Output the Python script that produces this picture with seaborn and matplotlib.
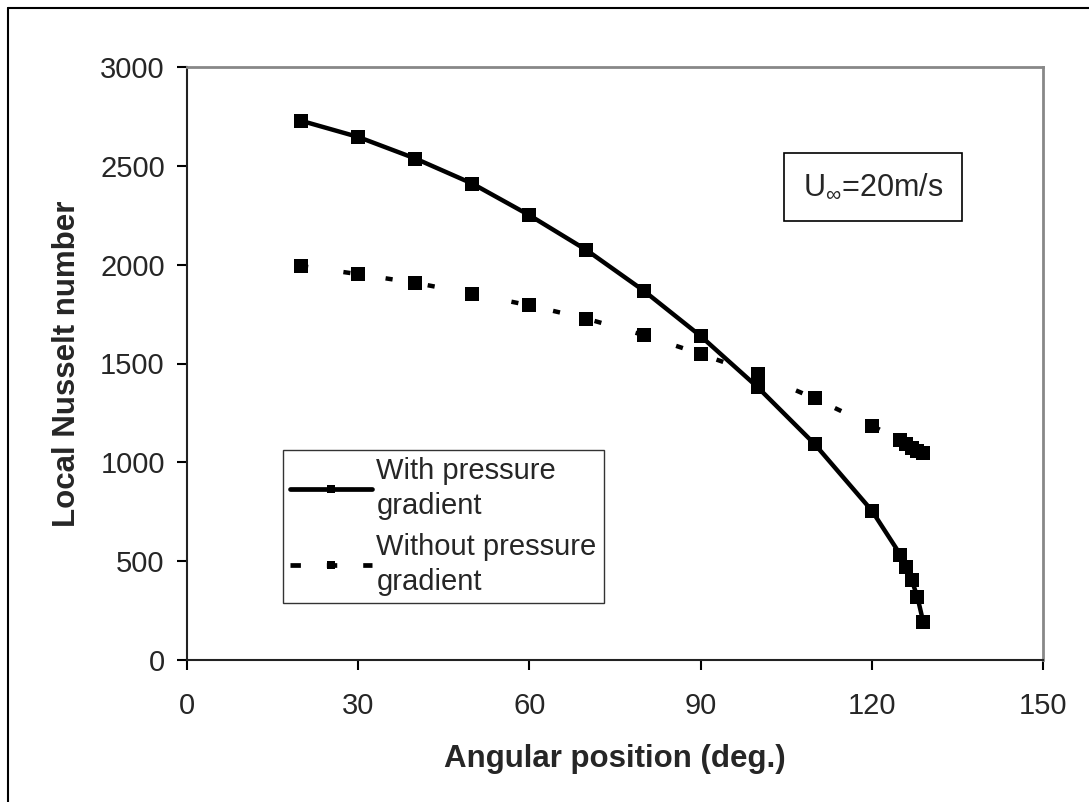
import matplotlib
matplotlib.use("Agg")
import matplotlib.pyplot as plt
from matplotlib.lines import Line2D
import seaborn as sns
import pandas as pd

angle = [20, 30, 40, 50, 60, 70, 80, 90, 100, 110, 120, 125, 126, 127, 128, 129]
nu_with = [2728, 2646, 2537, 2410, 2250, 2074, 1869, 1639, 1380, 1092, 756, 533, 471, 404, 318, 194]
nu_without = [1993, 1952, 1908, 1853, 1794, 1727, 1644, 1548, 1447, 1323, 1186, 1111, 1092, 1074, 1059, 1046]
series_names = ["With pressure\ngradient", "Without pressure\ngradient"]
annotation = "U$_{\\infty}$=20m/s"
x_ticks = [0, 30, 60, 90, 120, 150]
y_ticks = [0, 500, 1000, 1500, 2000, 2500, 3000]

sns.set_theme(style="white")
plt.rcParams['font.family'] = ['Liberation Sans', 'DejaVu Sans']
plt.rcParams['mathtext.fontset'] = 'custom'
plt.rcParams['mathtext.rm'] = 'Liberation Sans'
plt.rcParams['mathtext.it'] = 'Liberation Sans'

df = pd.DataFrame({"angle": angle, "with": nu_with, "without": nu_without})

fig = plt.figure(figsize=(10.89, 8.02), dpi=100)
ax = fig.add_axes([187/1089, 1 - 660/802, (1043 - 187)/1089, (660 - 67)/802])

sns.lineplot(data=df, x="angle", y="with", ax=ax, color="black", linewidth=3.2,
             marker="s", markersize=9.5, markeredgewidth=0, markerfacecolor="black")
sns.lineplot(data=df, x="angle", y="without", ax=ax, color="black", linewidth=3.2,
             marker="s", markersize=9.5, markeredgewidth=0, markerfacecolor="black")
ax.lines[1].set_dashes((1.6, 8))

ax.set_xlim(0, 150)
ax.set_ylim(0, 3000)
ax.set_xticks(x_ticks)
ax.set_yticks(y_ticks)
ax.tick_params(axis="both", which="major", direction="out", length=7, width=1.5,
               color="black", labelsize=21, left=True, bottom=True)
ax.tick_params(axis="x", pad=16)
ax.tick_params(axis="y", pad=9)
ax.set_xlabel("Angular position (deg.)", fontsize=22.5, fontweight="bold", labelpad=17)
ax.set_ylabel("Local Nusselt number", fontsize=22.5, fontweight="bold", labelpad=13)

for side in ["left", "bottom"]:
    ax.spines[side].set_color("#222222")
    ax.spines[side].set_linewidth(1.5)
for side in ["top", "right"]:
    ax.spines[side].set_color("#888888")
    ax.spines[side].set_linewidth(2)

h1 = Line2D([], [], color="black", linewidth=3.4, marker="s", markersize=6,
            markeredgewidth=0)
h2 = Line2D([], [], color="black", linewidth=3.4, marker="s", markersize=6,
            markeredgewidth=0, dashes=(2.2, 5.5))
leg = ax.legend([h1, h2], series_names, loc="lower left",
                bbox_to_anchor=((283 - 187)/856, (660 - 603)/593),
                fontsize=21, frameon=True, fancybox=False, handlelength=2.8,
                handletextpad=0.15, borderpad=0.25, labelspacing=0.45,
                borderaxespad=0)
leg.get_frame().set_edgecolor("black")
leg.get_frame().set_linewidth(1)
for t in leg.get_texts():
    t.set_linespacing(1.3)

ax.text((873 - 187)/856 * 150, (660 - 187)/593 * 3000, annotation,
        fontsize=22, ha="center", va="center",
        bbox=dict(boxstyle="square,pad=0.62", facecolor="white",
                  edgecolor="black", linewidth=1.2))

fig.add_artist(Line2D([8/1089, 8/1089], [0, 1 - 8/802], transform=fig.transFigure,
                      color="black", linewidth=1.5))
fig.add_artist(Line2D([8/1089, 1], [1 - 8/802, 1 - 8/802], transform=fig.transFigure,
                      color="black", linewidth=1.5))

fig.savefig("out.png", dpi=100)
